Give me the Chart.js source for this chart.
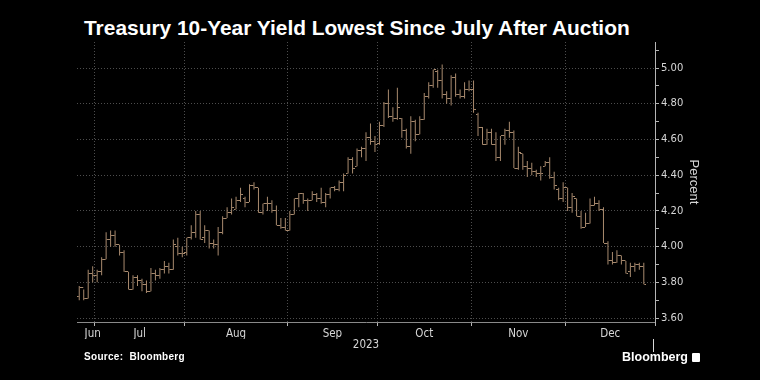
<!DOCTYPE html>
<html lang="en">
<head>
<meta charset="UTF-8">
<title>Treasury 10-Year Yield Lowest Since July After Auction</title>
<script src="https://cdn.jsdelivr.net/npm/chart.js@4"></script>
<style>
  html, body { margin: 0; padding: 0; background: #000; }
  body { width: 760px; height: 380px; position: relative; overflow: hidden; color: #fff; }
  #chart { position: absolute; left: 0; top: 0; }
  #title { position: absolute; left: 84px; top: 16px; font-family: 'Liberation Sans', Arial, sans-serif; font-weight: 700; font-size: 19px; white-space: nowrap; }
  #source { position: absolute; left: 84px; top: 351px; font: 700 10px 'Liberation Sans', Arial, sans-serif; letter-spacing: 0.3px; }
  #logo { position: absolute; left: 622px; top: 350px; font: 700 12.5px 'Liberation Sans', Arial, sans-serif; display: flex; align-items: center; gap: 4px; }
  #logo .box { width: 8px; height: 9px; background: #fff; border-radius: 1px; }
</style>
</head>
<body>

<div id="title">Treasury 10-Year Yield Lowest Since July After Auction</div>
<canvas id="chart" width="760" height="380"></canvas>
<div id="source">Source:&nbsp; Bloomberg</div>
<div id="logo">Bloomberg <span class="box"></span></div>

<script>
  // trading sessions, 10-year yield (%)
  const dates = [
    '2023-06-27','2023-06-28','2023-06-29','2023-06-30',
    '2023-07-03','2023-07-05','2023-07-06','2023-07-07','2023-07-10','2023-07-11','2023-07-12','2023-07-13','2023-07-14',
    '2023-07-17','2023-07-18','2023-07-19','2023-07-20','2023-07-21','2023-07-24','2023-07-25','2023-07-26','2023-07-27','2023-07-28','2023-07-31',
    '2023-08-01','2023-08-02','2023-08-03','2023-08-04','2023-08-07','2023-08-08','2023-08-09','2023-08-10','2023-08-11',
    '2023-08-14','2023-08-15','2023-08-16','2023-08-17','2023-08-18','2023-08-21','2023-08-22','2023-08-23','2023-08-24','2023-08-25',
    '2023-08-28','2023-08-29','2023-08-30','2023-08-31',
    '2023-09-01','2023-09-05','2023-09-06','2023-09-07','2023-09-08','2023-09-11','2023-09-12','2023-09-13','2023-09-14','2023-09-15',
    '2023-09-18','2023-09-19','2023-09-20','2023-09-21','2023-09-22','2023-09-25','2023-09-26','2023-09-27','2023-09-28','2023-09-29',
    '2023-10-02','2023-10-03','2023-10-04','2023-10-05','2023-10-06','2023-10-10','2023-10-11','2023-10-12','2023-10-13',
    '2023-10-16','2023-10-17','2023-10-18','2023-10-19','2023-10-20','2023-10-23','2023-10-24','2023-10-25','2023-10-26','2023-10-27',
    '2023-10-30','2023-10-31',
    '2023-11-01','2023-11-02','2023-11-03','2023-11-06','2023-11-07','2023-11-08','2023-11-09','2023-11-10','2023-11-13','2023-11-14',
    '2023-11-15','2023-11-16','2023-11-17','2023-11-20','2023-11-21','2023-11-22','2023-11-24','2023-11-27','2023-11-28','2023-11-29','2023-11-30',
    '2023-12-01','2023-12-04','2023-12-05','2023-12-06','2023-12-07','2023-12-08','2023-12-11','2023-12-12','2023-12-13','2023-12-14',
    '2023-12-15','2023-12-18','2023-12-19','2023-12-20','2023-12-21','2023-12-22','2023-12-26','2023-12-27'
  ];
  const openVals = [
    3.72,3.77,3.71,3.85,3.84,3.86,3.93,4.04,4.06,4.01,
    3.97,3.86,3.76,3.83,3.81,3.79,3.75,3.85,3.84,3.87,
    3.89,3.87,4.00,3.96,3.97,4.05,4.08,4.18,4.05,4.09,
    4.02,4.01,4.08,4.16,4.19,4.21,4.26,4.27,4.25,4.34,
    4.33,4.19,4.24,4.24,4.20,4.12,4.11,4.09,4.18,4.27,
    4.30,4.26,4.26,4.29,4.27,4.25,4.29,4.33,4.32,4.36,
    4.41,4.49,4.45,4.54,4.55,4.61,4.59,4.58,4.68,4.80,
    4.73,4.72,4.72,4.65,4.56,4.70,4.63,4.71,4.84,4.90,
    4.98,4.93,4.85,4.83,4.95,4.85,4.84,4.88,4.88,4.74,
    4.67,4.57,4.64,4.57,4.50,4.62,4.65,4.64,4.44,4.52,
    4.45,4.44,4.42,4.41,4.45,4.47,4.39,4.32,4.27,4.33,
    4.22,4.27,4.17,4.11,4.13,4.23,4.24,4.21,4.02,3.92,
    3.91,3.95,3.92,3.86,3.89,3.90,3.89
  ];
  const highVals = [
    3.78,3.76,3.87,3.89,3.87,3.94,4.08,4.09,4.09,4.01,
    3.98,3.86,3.84,3.84,3.82,3.81,3.88,3.87,3.88,3.92,
    3.91,4.04,4.05,4.00,4.05,4.12,4.20,4.20,4.12,4.09,
    4.04,4.11,4.17,4.22,4.27,4.28,4.33,4.28,4.35,4.36,
    4.33,4.24,4.28,4.26,4.23,4.16,4.16,4.20,4.27,4.30,
    4.30,4.27,4.31,4.30,4.33,4.30,4.33,4.34,4.37,4.41,
    4.50,4.50,4.55,4.56,4.64,4.69,4.62,4.70,4.81,4.88,
    4.78,4.89,4.72,4.66,4.73,4.71,4.73,4.86,4.92,4.99,
    4.99,5.02,4.87,4.96,4.97,4.88,4.92,4.93,4.93,4.75,
    4.67,4.66,4.66,4.64,4.62,4.66,4.70,4.65,4.56,4.52,
    4.48,4.47,4.43,4.45,4.48,4.50,4.42,4.33,4.36,4.33,
    4.30,4.27,4.20,4.19,4.27,4.28,4.26,4.22,4.03,3.97,
    3.98,3.95,3.92,3.91,3.91,3.91,3.91
  ];
  const lowVals = [
    3.70,3.70,3.71,3.80,3.80,3.84,3.93,4.00,4.00,3.95,
    3.86,3.76,3.76,3.78,3.75,3.74,3.75,3.81,3.82,3.85,
    3.85,3.87,3.95,3.94,3.95,4.04,4.05,4.04,4.02,3.99,
    3.99,3.95,4.07,4.16,4.18,4.21,4.25,4.22,4.25,4.32,
    4.19,4.18,4.20,4.19,4.12,4.10,4.09,4.09,4.18,4.22,
    4.24,4.20,4.26,4.25,4.24,4.22,4.27,4.31,4.31,4.31,
    4.41,4.41,4.45,4.50,4.48,4.57,4.53,4.57,4.67,4.72,
    4.70,4.71,4.61,4.55,4.52,4.59,4.63,4.71,4.83,4.89,
    4.89,4.83,4.80,4.79,4.84,4.83,4.83,4.87,4.75,4.62,
    4.57,4.57,4.57,4.48,4.48,4.57,4.61,4.44,4.43,4.43,
    4.39,4.40,4.39,4.37,4.45,4.38,4.32,4.26,4.25,4.20,
    4.19,4.17,4.10,4.11,4.13,4.23,4.20,4.02,3.90,3.90,
    3.91,3.90,3.85,3.83,3.86,3.87,3.79
  ];
  const closeVals = [
    3.77,3.71,3.85,3.84,3.86,3.93,4.04,4.06,4.01,3.97,
    3.86,3.76,3.83,3.81,3.79,3.75,3.85,3.84,3.87,3.89,
    3.87,4.01,3.96,3.96,4.05,4.08,4.18,4.04,4.09,4.02,
    4.01,4.08,4.16,4.19,4.22,4.26,4.29,4.25,4.34,4.33,
    4.19,4.24,4.24,4.20,4.12,4.11,4.09,4.18,4.27,4.30,
    4.26,4.26,4.29,4.27,4.25,4.29,4.33,4.32,4.36,4.40,
    4.49,4.44,4.54,4.55,4.61,4.59,4.57,4.68,4.80,4.73,
    4.72,4.78,4.65,4.56,4.70,4.63,4.71,4.84,4.90,4.99,
    4.93,4.85,4.83,4.95,4.85,4.84,4.88,4.88,4.77,4.67,
    4.57,4.64,4.57,4.50,4.62,4.65,4.64,4.44,4.53,4.45,
    4.44,4.42,4.41,4.41,4.47,4.39,4.34,4.27,4.33,4.22,
    4.28,4.17,4.11,4.13,4.23,4.24,4.21,4.02,3.92,3.91,
    3.95,3.92,3.85,3.89,3.90,3.89,3.79
  ];
  const monthLabels = ['Jun', 'Jul', 'Aug', 'Sep', 'Oct', 'Nov', 'Dec'];
  const yearLabel = '2023';
  const yTickValues = [3.6, 3.7, 3.8, 3.9, 4.0, 4.1, 4.2, 4.3, 4.4, 4.5, 4.6, 4.7, 4.8, 4.9, 5.0, 5.1];

  const barColor = '#a88a6e';
  const gridColor = '#4d4d4d';
  const axisColor = '#b5b5b5';
  const labelColor = '#d6d6d6';
  const narrow = "'Liberation Sans Narrow', 'DejaVu Sans Condensed', sans-serif";

  // x axis runs in session index; it continues to the last session of December (Dec 29)
  const xMin = -0.5;
  const xMax = dates.length + 1.5;

  // month boundaries sit half a session before the first session of each month
  const bounds = [];
  for (let i = 1; i < dates.length; i++) {
    if (dates[i].slice(5, 7) !== dates[i - 1].slice(5, 7)) bounds.push(i - 0.5);
  }
  bounds.push(xMax);
  const monthCenters = bounds.map((end, i) => {
    const start = i === 0 ? xMin : bounds[i - 1];
    return end - start < 8 ? end - 0.5 : (start + end) / 2;
  });

  // fit the title to its width in the reference
  (function fitTitle() {
    const el = document.getElementById('title');
    const g = document.createElement('canvas').getContext('2d');
    g.font = "700 19px 'Liberation Sans', Arial, sans-serif";
    const w = g.measureText(el.textContent).width;
    el.style.fontSize = (19 * 548 / w).toFixed(2) + 'px';
  })();

  // open tick on the left, close tick on the right
  function tickImage(side) {
    const c = document.createElement('canvas');
    c.width = 5; c.height = 1;
    const g = c.getContext('2d');
    g.fillStyle = barColor;
    g.fillRect(side === 'left' ? 0 : 3, 0, 2, 1);
    return c;
  }

  const isMajor = v => Math.round(v * 10) % 2 === 0;

  Chart.defaults.font.family = narrow;

  new Chart(document.getElementById('chart'), {
    type: 'bar',
    data: {
      datasets: [
        {
          type: 'bar',
          data: dates.map((d, i) => ({ x: i, y: [lowVals[i], highVals[i]] })),
          backgroundColor: barColor,
          borderWidth: 0,
          inflateAmount: 0,
          barThickness: 1,
          xAxisID: 'x', yAxisID: 'y'
        },
        {
          type: 'scatter',
          data: dates.map((d, i) => ({ x: i, y: openVals[i] })),
          pointStyle: tickImage('left'),
          pointRadius: 2,
          xAxisID: 'x', yAxisID: 'y'
        },
        {
          type: 'scatter',
          data: dates.map((d, i) => ({ x: i, y: closeVals[i] })),
          pointStyle: tickImage('right'),
          pointRadius: 2,
          xAxisID: 'x', yAxisID: 'y'
        }
      ]
    },
    options: {
      responsive: false,
      animation: false,
      events: [],
      layout: { padding: { left: 77, top: 42, right: 56, bottom: 25 } },
      plugins: { legend: { display: false }, tooltip: { enabled: false } },
      scales: {
        x: {
          type: 'linear', position: 'bottom', weight: 0,
          min: xMin, max: xMax, offset: false,
          afterBuildTicks: s => { s.ticks = bounds.map(v => ({ value: v })); },
          ticks: { display: false },
          grid: { offset: false, color: gridColor, tickColor: axisColor, tickLength: 4 },
          border: { color: '#8a8a8a', dash: [1, 2] },
          afterFit: s => { s.height = 5; }
        },
        m: {
          type: 'linear', position: 'bottom', weight: 1,
          min: xMin, max: xMax, offset: false,
          afterBuildTicks: s => { s.ticks = monthCenters.map(v => ({ value: v })); },
          ticks: {
            callback: (v, i) => monthLabels[i],
            color: labelColor, font: { size: 11.5 }, padding: 0,
            autoSkip: false, maxRotation: 0
          },
          grid: { display: false, drawTicks: false, offset: false },
          border: { display: false },
          afterFit: s => { s.height = 12; }
        },
        yr: {
          type: 'linear', position: 'bottom', weight: 2,
          min: xMin, max: xMax, offset: false,
          // year label in the middle, year-end mark just inside the right edge
          afterBuildTicks: s => { s.ticks = [{ value: (xMin + xMax) / 2 }, { value: xMax - 0.4 }]; },
          ticks: {
            callback: (v, i) => (i === 0 ? yearLabel : ''),
            color: labelColor, font: { size: 11.5 }, padding: -14,
            autoSkip: false, maxRotation: 0
          },
          grid: {
            display: true, drawOnChartArea: false, tickLength: 13, offset: false,
            color: 'transparent',
            tickColor: c => (c.index === 1 ? '#d8d8d8' : 'transparent')
          },
          border: { display: false },
          afterFit: s => { s.height = 16; }
        },
        y: {
          type: 'linear', position: 'right',
          min: 3.578, max: 5.146,
          afterBuildTicks: s => { s.ticks = yTickValues.map(v => ({ value: v })); },
          ticks: {
            callback: v => (isMajor(v) ? v.toFixed(2) : ''),
            color: labelColor, font: { size: 10, family: "'DejaVu Sans', sans-serif" }, padding: 2,
            autoSkip: false
          },
          grid: {
            color: c => (isMajor(c.tick.value) ? gridColor : 'transparent'),
            tickColor: axisColor, tickLength: 4
          },
          border: { color: axisColor, dash: [1, 2] },
          title: {
            display: true, text: 'Percent', color: labelColor,
            font: { size: 13, family: "'Liberation Sans', Arial, sans-serif" },
            padding: { top: 3, bottom: 0 }
          },
          afterFit: s => { s.width = 49; }
        }
      }
    }
  });
</script>

</body>
</html>
